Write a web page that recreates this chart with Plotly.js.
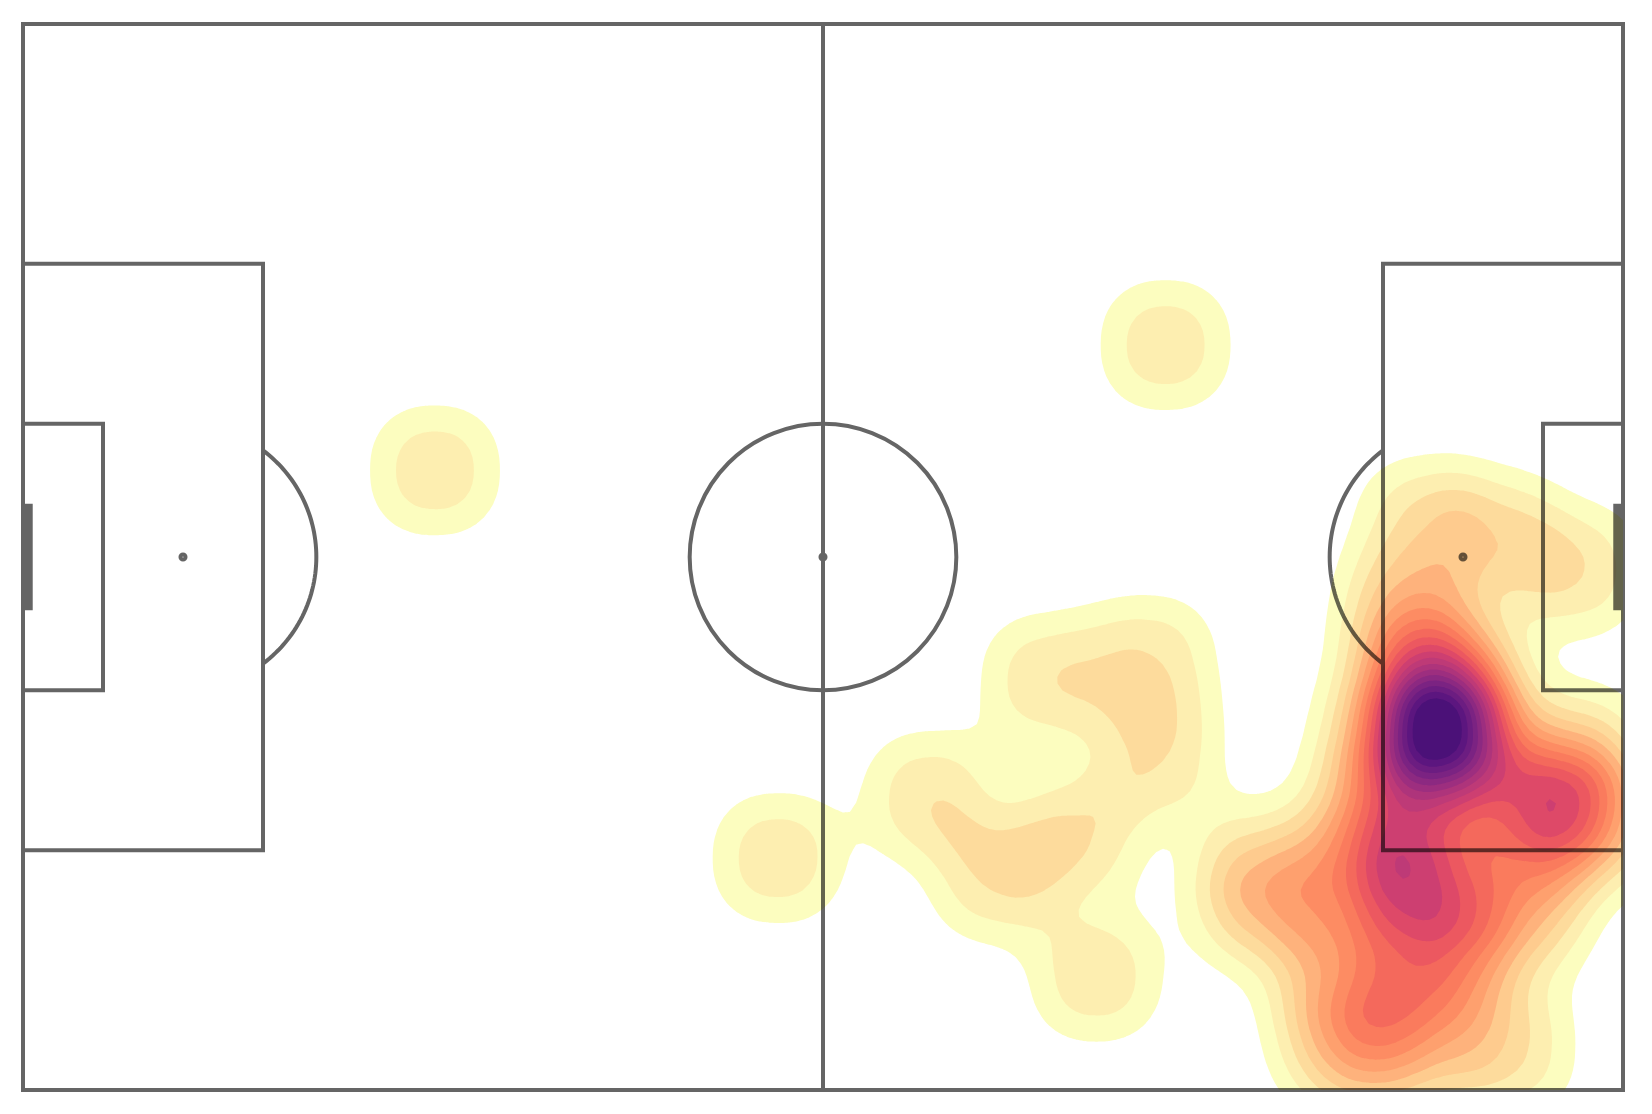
<!DOCTYPE html>
<html><head><meta charset="utf-8">
<script src="https://cdn.plot.ly/plotly-3.0.1.min.js"></script>
<style>html,body{margin:0;padding:0;background:#fff}
.layer-above .shapelayer{opacity:.6}</style></head>
<body><div id="chart" style="width:1652px;height:1114px"></div>
<script>
// Event locations (pitch units, 120 x 80) and how many events sit there
const eventX=[30.9,85.7,56.6, 76.8,84.5,85,68,73,79,80.5,
 105,110.5,103.5,105,116.5,
 106.5,105,108,104.5,109,
 101.5,104,107,100,105,102,
 103,105,98.5,106,101,111.5,108,112.5,98.5,
 93,92.5,99,
 115.5,118.5,112.5,116.5,113];
const eventY=[33.5,24.1,62.6, 49.2,47.8,55,58,64,61,71.5,
 37.5,38.5,44,46.5,41,
 53,49,49,56,56,
 58,64,66,62,61,53,
 73,69.5,71.5,76,78,77,70,67,76,
 66.5,63.5,66,
 58.5,60,59,54.5,63.5];
const eventN=[1,1,1, 1,1,1,1,1,1,1,
 1,1,1,1,1,
 5,1,1,1,1,
 1,2,1,1,1,1,
 1,1,1,1,1,1,1,1,1,
 1,1,1,
 2,1,1,1,1];
const bandColors=['#ffffff','#fcfdbf','#fdeeb0','#fddb9c','#fecb8e','#feb27c','#fea06e','#fd8c63','#fa7b5d','#f4695c','#ec5860','#de4968','#cd3f71','#be3a77','#ae347b','#9d2e7f','#8c2981','#7b2382','#6c1d81','#5c167f','#4b1178'];
const kernelPower=2.3, kernelScale=37.9, kernelPeak=2.73;
const gridX=[],gridY=[];
for(let i=0;i<=240;i++)gridX.push(i*0.5);
for(let j=0;j<=160;j++)gridY.push(j*0.5);
const z=gridY.map(y=>gridX.map(x=>{let s=0;
 eventX.forEach((ex,k)=>{const dx=Math.abs(x-ex),dy=Math.abs(y-eventY[k]);
  s+=eventN[k]*kernelPeak*Math.exp(-(Math.pow(dx,kernelPower)+Math.pow(dy,kernelPower))/kernelScale);});
 return s;}));
const nb=bandColors.length;
const colorscale=[];
bandColors.forEach((c,i)=>{colorscale.push([i/nb,c]);colorscale.push([(i+1)/nb,c]);});
const L=(x0,y0,x1,y1,w)=>({type:'line',x0,y0,x1,y1,layer:'above',line:{color:'#000',width:w}});
const R=(x0,y0,x1,y1,w)=>({type:'rect',x0,y0,x1,y1,layer:'above',line:{color:'#000',width:w}});
const G=(x0,y0,x1,y1)=>({type:'rect',x0,y0,x1,y1,layer:'above',fillcolor:'#000',line:{width:0}});
const C=(cx,cy,r,w)=>({type:'circle',x0:cx-r,x1:cx+r,y0:cy-r,y1:cy+r,layer:'above',line:{color:'#000',width:w}});
function arcPath(cx,cy,r,a0,a1){const p=[];for(let i=0;i<=60;i++){const a=a0+(a1-a0)*i/60;p.push((i?'L':'M')+(cx+r*Math.cos(a))+','+(cy+r*Math.sin(a)));}return p.join(' ');}
const t=Math.acos(6/10);
const shapes=[R(0,0,120,80,4),L(60,0,60,80,4),R(0,18,18,62,4),R(102,18,120,62,4),R(0,30,6,50,4),R(114,30,120,50,4),
 G(0,36,0.73,44),G(119.27,36,120,44),C(60,40,10,4),C(60,40,0.19,4),C(12,40,0.19,4),C(108,40,0.19,4),
 {type:'path',path:arcPath(12,40,10,-t,t),layer:'above',line:{color:'#000',width:4}},
 {type:'path',path:arcPath(108,40,10,Math.PI-t,Math.PI+t),layer:'above',line:{color:'#000',width:4}}];
const sx=1600/120,sy=1066/80;
Plotly.newPlot('chart',[{type:'contour',x:gridX,y:gridY,z,zmin:0,zmax:nb,autocontour:false,
 contours:{start:1,end:nb-1,size:1,coloring:'fill',showlines:false},line:{width:0,smoothing:0},
 colorscale,showscale:false,hoverinfo:'skip'}],
 {width:1652,height:1114,margin:{l:0,r:0,t:0,b:0},paper_bgcolor:'#fff',plot_bgcolor:'#fff',
  xaxis:{range:[-23/sx,(1652-23)/sx],visible:false,fixedrange:true},
  yaxis:{range:[(1114-24)/sy,-24/sy],visible:false,fixedrange:true},shapes,showlegend:false},
 {displayModeBar:false,staticPlot:true});
</script></body></html>
